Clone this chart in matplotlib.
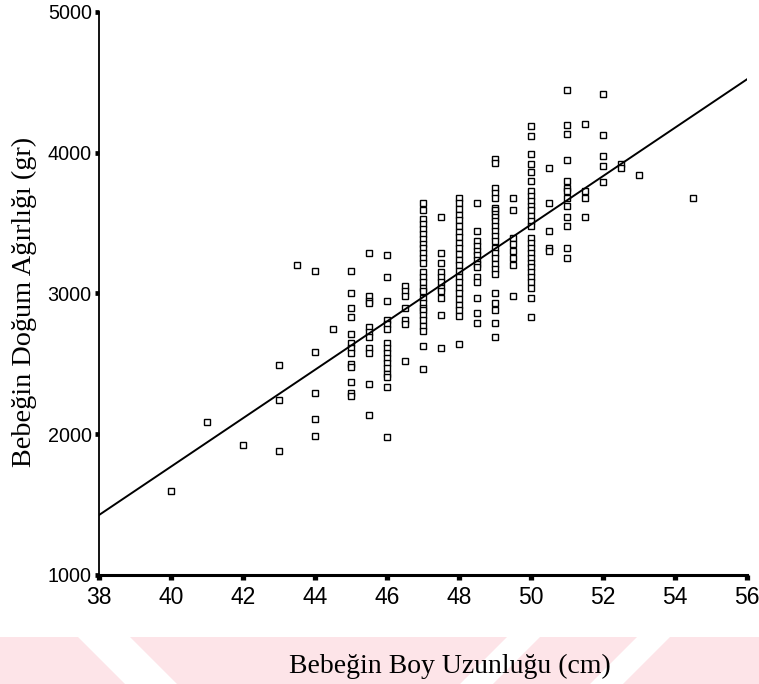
import matplotlib
matplotlib.use("Agg")
import matplotlib.pyplot as plt
from matplotlib.patches import Polygon

# Baby length (cm) and birth weight (g), one entry per infant
length_cm = (
    [40.0, 41.0, 42.0]
    + [43.0] * 3 + [43.5] + [44.0] * 5 + [44.5]
    + [45.0] * 13 + [45.5] * 11 + [46.0] * 16 + [46.5] * 7
    + [47.0] * 27 + [47.5] * 11 + [48.0] * 23 + [48.5] * 14
    + [49.0] * 25 + [49.5] * 8 + [50.0] * 27 + [50.5] * 5
    + [51.0] * 13 + [51.5] * 4 + [52.0] * 5 + [52.5] * 2
    + [53.0, 54.5]
)

weight_gr = [
    1600, 2090, 1925,
    2490, 2240, 1880,
    3200,
    3160, 2585, 2290, 2105, 1985,
    2745,
    # 45
    3160, 3000, 2900, 2835, 2715, 2645, 2610, 2580, 2500, 2480, 2370, 2290, 2270,
    # 45.5
    3285, 2985, 2950, 2930, 2760, 2730, 2690, 2615, 2575, 2355, 2135,
    # 46
    3275, 3120, 2945, 2810, 2785, 2745, 2645, 2610, 2575, 2540, 2505, 2470,
    2430, 2405, 2335, 1980,
    # 46.5
    3055, 3020, 2985, 2895, 2810, 2785, 2520,
    # 47
    3645, 3595, 3530, 3495, 3460, 3425, 3390, 3355, 3325, 3290, 3255, 3220,
    3150, 3115, 3080, 3040, 3020, 2970, 2935, 2900, 2880, 2845, 2810, 2770,
    2735, 2630, 2465,
    # 47.5
    3540, 3290, 3220, 3150, 3115, 3080, 3040, 3020, 2970, 2845, 2615,
    # 48
    3680, 3640, 3600, 3560, 3520, 3480, 3440, 3400, 3360, 3320, 3280, 3240,
    3200, 3160, 3120, 3080, 3040, 3000, 2960, 2920, 2880, 2840, 2640,
    # 48.5
    3640, 3445, 3375, 3340, 3305, 3270, 3235, 3210, 3185, 3115, 3080, 2970,
    2860, 2790,
    # 49
    3955, 3930, 3750, 3715, 3680, 3610, 3590, 3565, 3540, 3515, 3480, 3445,
    3410, 3375, 3325, 3285, 3250, 3210, 3175, 3140, 3005, 2935, 2880, 2790,
    2690,
    # 49.5
    3680, 3595, 3395, 3355, 3305, 3255, 3200, 2985,
    # 50
    4190, 4120, 3990, 3920, 3860, 3800, 3730, 3695, 3660, 3625, 3590, 3550,
    3515, 3480, 3395, 3360, 3325, 3290, 3255, 3220, 3185, 3150, 3115, 3080,
    3040, 2970, 2830,
    # 50.5
    3890, 3640, 3445, 3325, 3305,
    # 51
    4445, 4200, 4135, 3950, 3800, 3750, 3730, 3680, 3625, 3545, 3480, 3320, 3250,
    # 51.5
    4205, 3730, 3680, 3540,
    # 52
    4415, 4125, 3980, 3905, 3795,
    # 52.5
    3920, 3890,
    3845, 3680,
]

# Fitted regression line: weight = intercept + slope * length
fit_intercept = -5110.0
fit_slope = 172.0

x_ticks = [38, 40, 42, 44, 46, 48, 50, 52, 54, 56]
y_ticks = [1000, 2000, 3000, 4000, 5000]

x_label = "Bebeğin Boy Uzunluğu (cm)"
y_label = "Bebeğin Doğum Ağırlığı (gr)"

W, H = 759, 684
fig = plt.figure(figsize=(W / 100, H / 100), dpi=100)
fig.patch.set_facecolor("white")


def fx(px):
    return px / W


def fy(py):
    return 1 - py / H


# faint pink band along the bottom of the page
pink = "#fde4e8"
bands = [
    [(0, 637), (78, 637), (125, 684), (0, 684)],
    [(130, 637), (507, 637), (460, 684), (177, 684)],
    [(540, 637), (637, 637), (590, 684), (493, 684)],
    [(670, 637), (759, 637), (759, 684), (623, 684)],
]
for b in bands:
    fig.patches.append(Polygon([(fx(a), fy(c)) for a, c in b], closed=True,
                               transform=fig.transFigure, facecolor=pink,
                               edgecolor="none", zorder=0))

ax = fig.add_axes([fx(99), fy(575), fx(747) - fx(99), fy(12) - fy(575)])
ax.set_facecolor("none")

ax.plot(length_cm, weight_gr, linestyle="none", marker="s", markersize=3.8,
        markerfacecolor="white", markeredgecolor="black", markeredgewidth=1.0,
        zorder=3)

x0, x1 = x_ticks[0], x_ticks[-1]
ax.plot([x0, x1], [fit_intercept + fit_slope * x0, fit_intercept + fit_slope * x1],
        color="black", linewidth=1.4, zorder=4)

ax.set_xlim(x0, x1)
ax.set_ylim(y_ticks[0], y_ticks[-1])
for s in ("top", "right"):
    ax.spines[s].set_visible(False)
ax.spines["left"].set_linewidth(1.3)
ax.spines["bottom"].set_linewidth(2.2)

sans = "Liberation Sans"
ax.set_xticks(x_ticks)
ax.set_yticks(y_ticks)
ax.set_xticklabels([str(v) for v in x_ticks], family=sans, fontsize=16.5)
ax.set_yticklabels([str(v) for v in y_ticks], family=sans, fontsize=14.2)
ax.tick_params(axis="x", direction="out", length=3.8, width=3.8, pad=4)
ax.tick_params(axis="y", direction="out", length=3.2, width=3.4, pad=2)

serif = "Liberation Serif"
fig.text(fx(450), fy(673), x_label, family=serif, fontsize=20,
         ha="center", va="baseline")
fig.text(fx(31), fy(302), y_label, family=serif, fontsize=20.3,
         ha="center", va="baseline", rotation=90, rotation_mode="anchor")

fig.savefig("out.png", dpi=100, facecolor="white")
